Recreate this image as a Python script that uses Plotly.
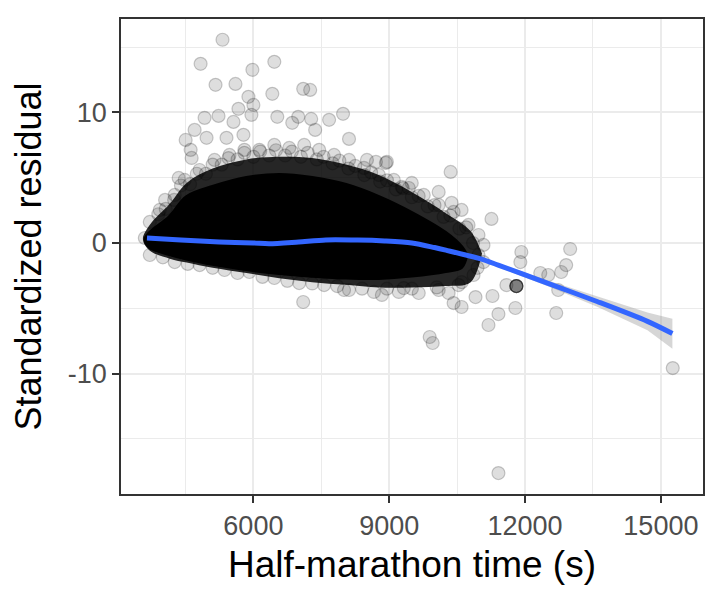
import plotly.graph_objects as go

# dense core of the residual cloud: outline
core_x = [3620, 3714, 4154, 4527, 5099, 5846, 6571, 7297, 8044, 8769, 9495, 10242, 10594, 10700]
core_upper = [0.3, 0.77, 1.99, 3.52, 4.29, 4.98, 5.21, 4.98, 4.44, 3.52, 2.30, 0.77, -0.31, -0.9]
core_lower = [0.3, -0.31, -0.85, -1.2, -1.6, -2.0, -2.3, -2.5, -2.65, -2.68, -2.5, -2.15, -1.84, -0.9]

# thinner halo of overlapping points round the core
halo_x = [3560, 3714, 4154, 4527, 5099, 5846, 6571, 7297, 8044, 8769, 9495, 10242, 10800, 11050]
halo_upper = [0.3, 1.4, 3.0, 4.6, 5.7, 6.4, 6.6, 6.5, 6.0, 5.2, 3.9, 2.3, 0.9, -0.8]
halo_lower = [0.3, -0.6, -1.2, -1.5, -1.9, -2.3, -2.7, -3.0, -3.2, -3.4, -3.4, -3.3, -3.0, -0.8]

# individual runners visible around the core (time in s, standardized residual)
runner_x = [
    5318, 4834, 5978, 6462, 5164, 5604, 6418, 7100, 7254, 5890, 6000, 5670, 4922, 5230,
    5956, 5560, 6528, 6990, 7276, 7672, 7980, 4702, 4504, 4966, 5406, 5780, 6858, 7364,
    8112, 4350, 4064, 4636, 4614, 8508, 8948, 8706, 10356, 10092, 11258, 8926, 9498, 9278,
    10378, 10598, 12996, 12908, 12798, 12336, 12512, 11918, 11896,
    11808, 11808, 11808, 11808, 11808,
    12732, 12688, 11786, 11412, 11192, 9894, 9960, 11280, 11588, 15262, 10312, 10598,
    10906, 10422, 8838, 11412, 7100, 3602, 8002, 9322,
    # edge of the cloud, top
    3712, 3932, 4262, 4482, 4812, 5142, 5472, 5802, 6132, 6462, 6792, 7122, 7452, 7782,
    8112, 8442, 8772, 9102, 9432, 9762, 10092, 10422, 10752, 10972, 11082, 10972,
    4050, 4400, 4750, 5100, 5450, 5800, 6150, 6500, 6850, 7200, 7550, 7900, 8250, 8600,
    8950, 9300, 9650, 10000, 10350, 10700,
    3900, 4250, 4600, 4950, 5300, 5650, 6000, 6350, 6700, 7050, 7400, 7750, 8100, 8450,
    8800, 9150, 9500, 9850, 10200, 10550, 10850,
    # edge of the cloud, bottom
    3712, 4262, 4812, 5362, 5912, 6462, 7012, 7562, 8112, 8662, 9212, 9652, 10092, 10532,
    10862, 11082,
    4000, 4550, 5100, 5650, 6200, 6750, 7300, 7850, 8400, 8950, 9500, 10050, 10600, 10950,
]
runner_y = [
    15.56, 13.72, 13.26, 13.87, 12.11, 12.18, 11.42, 11.80, 11.72, 11.19, 10.57, 10.27, 9.58, 9.73,
    9.81, 9.27, 9.66, 9.66, 9.50, 9.43, 9.89, 8.66, 7.89, 8.05, 8.05, 8.28, 9.20, 8.66,
    7.97, 4.98, 2.61, 6.51, 7.13, 6.36, 6.21, 6.21, 5.44, 3.91, 1.84, 6.13, 4.60, 4.29,
    3.07, 2.53, -0.46, -1.69, -2.22, -2.30, -2.45, -0.69, -1.46,
    -3.30, -3.30, -3.30, -3.30, -3.30,
    -3.60, -5.36, -4.98, -5.44, -6.28, -7.20, -7.66, -4.06, -3.22, -9.58, -3.83, -4.90,
    -4.14, -4.60, -3.98, -17.62, -4.52, 0.38, -3.60, -3.45,
    1.61, 2.53, 3.68, 4.83, 5.59, 6.36, 6.74, 7.13, 7.13, 7.51, 7.28, 7.51, 7.13, 6.74,
    6.36, 5.75, 5.21, 4.83, 4.21, 3.68, 2.91, 2.38, 1.38, 0.61, -0.15, -0.92,
    3.3, 4.4, 5.3, 6.0, 6.5, 6.9, 7.0, 7.1, 7.0, 6.9, 6.6, 6.3, 5.9, 5.4,
    4.8, 4.2, 3.6, 2.9, 2.1, 1.2,
    2.2, 3.3, 4.5, 5.3, 6.0, 6.4, 6.6, 6.7, 6.7, 6.6, 6.4, 6.1, 5.7, 5.2,
    4.7, 4.1, 3.5, 2.8, 2.0, 1.1, 0.0,
    -0.92, -1.46, -1.69, -2.07, -2.22, -2.68, -3.07, -3.22, -3.60, -3.75, -3.75, -3.83, -3.60, -3.22,
    -2.45, -1.46,
    -1.1, -1.6, -1.9, -2.3, -2.6, -2.9, -3.1, -3.3, -3.5, -3.5, -3.5, -3.4, -3.0, -1.9,
]

# loess smooth and its confidence band
smooth_x = [3650, 4400, 5250, 6000, 6350, 7000, 7600, 8300, 8900, 9500, 10000, 10250,
            11000, 11407, 12506, 13605, 14704, 15254]
smooth_y = [0.38, 0.22, 0.08, 0.0, -0.06, 0.08, 0.23, 0.22, 0.15, 0.0, -0.35, -0.55,
            -1.2, -1.69, -3.09, -4.50, -6.0, -6.93]
smooth_lo = [0.28, 0.14, 0.0, -0.08, -0.14, 0.0, 0.15, 0.14, 0.07, -0.08, -0.44, -0.65,
             -1.32, -1.84, -3.31, -4.90, -6.68, -8.1]
smooth_hi = [0.48, 0.30, 0.16, 0.08, 0.02, 0.16, 0.31, 0.30, 0.23, 0.08, -0.26, -0.45,
             -1.08, -1.54, -2.87, -4.10, -5.32, -5.8]

x_ticks = [6000, 9000, 12000, 15000]
y_ticks = [-10, 0, 10]

fig = go.Figure()

fig.add_trace(go.Scatter(
    x=halo_x + halo_x[::-1], y=halo_upper + halo_lower[::-1],
    mode='lines', fill='toself', fillcolor='rgba(0,0,0,0.85)',
    line=dict(width=0, shape='spline'), hoverinfo='skip'))

fig.add_trace(go.Scatter(
    x=core_x + core_x[::-1], y=core_upper + core_lower[::-1],
    mode='lines', fill='toself', fillcolor='black',
    line=dict(color='black', width=4, shape='spline'), hoverinfo='skip'))

fig.add_trace(go.Scatter(
    x=runner_x, y=runner_y, mode='markers',
    marker=dict(size=13, color='rgba(0,0,0,0.13)',
                line=dict(color='rgba(0,0,0,0.2)', width=1.2))))

fig.add_trace(go.Scatter(
    x=smooth_x + smooth_x[::-1], y=smooth_hi + smooth_lo[::-1],
    mode='lines', fill='toself', fillcolor='rgba(153,153,153,0.4)',
    line=dict(width=0), hoverinfo='skip'))

fig.add_trace(go.Scatter(
    x=smooth_x, y=smooth_y, mode='lines',
    line=dict(color='#3366FF', width=5, shape='spline', smoothing=0.8)))

axis_style = dict(
    showgrid=True, gridcolor='#EBEBEB', gridwidth=2,
    showline=True, mirror=True, linecolor='#333333', linewidth=1.5,
    ticks='outside', ticklen=7, tickwidth=2, tickcolor='#333333',
    tickfont=dict(size=27, color='#4D4D4D'),
    zeroline=False, automargin=False,
)

# the page body adds 8 px on the left and top, so the figure is 712x592
fig.update_layout(
    width=712, height=592,
    margin=dict(l=113, r=17, t=11, b=106),
    paper_bgcolor='white', plot_bgcolor='white',
    showlegend=False,
    font=dict(family='Liberation Sans, Arial, sans-serif', color='black'),
    xaxis=dict(
        range=[3076, 15930], tickvals=x_ticks, ticktext=[str(v) for v in x_ticks],
        minor=dict(tick0=0, dtick=1500, showgrid=True, gridcolor='#EBEBEB', gridwidth=1),
        title=dict(text='Half-marathon time (s)', font=dict(size=37), standoff=11),
        **axis_style),
    yaxis=dict(
        range=[-19.22, 17.15], tickvals=y_ticks, ticktext=[str(v) for v in y_ticks],
        minor=dict(tick0=0, dtick=5, showgrid=True, gridcolor='#EBEBEB', gridwidth=1),
        title=dict(text='Standardized residual', font=dict(size=36), standoff=17),
        **axis_style),
)

fig.write_html("out.html")
